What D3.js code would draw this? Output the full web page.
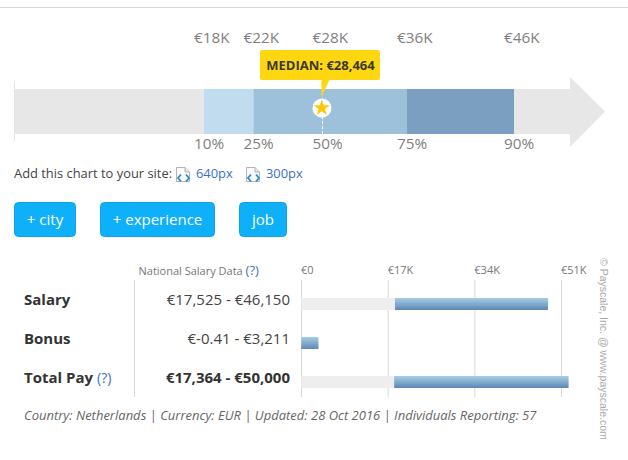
<!DOCTYPE html>
<html>
<head>
<meta charset="utf-8">
<script src="https://cdnjs.cloudflare.com/ajax/libs/d3/7.8.5/d3.min.js"></script>
<style>
html, body { margin: 0; padding: 0; background: #fff; }
svg { display: block; font-family: "Open Sans", sans-serif; }
</style>
</head>
<body>
<svg id="chart" width="628" height="460"></svg>
<script>
// Percentile band
const percentileLabels = ["10%", "25%", "50%", "75%", "90%"];
const percentileValues = [17525, 22100, 28464, 36270, 46150];
const percentileTicks = ["€18K", "€22K", "€28K", "€36K", "€46K"];
const bandColors = ["#c2dcef", "#9dc1da", "#9dc1da", "#7a9fc0"];
const medianValue = 28464;

// Salary ranges
const rowNames = ["Salary", "Bonus", "Total Pay"];
const rowRanges = ["€17,525 - €46,150", "€-0.41 - €3,211", "€17,364 - €50,000"];
const rowLow = [17525, -0.41, 17364];
const rowHigh = [46150, 3211, 50000];
const axisTicks = ["€0", "€17K", "€34K", "€51K"];

const buttons = [["+ city", 14, 62], ["+ experience", 100, 115], ["job", 239, 48]];
const embedSizes = ["640px", "300px"];

const svg = d3.select("#chart");
const grad = svg.append("defs").append("linearGradient").attr("id", "barFill")
  .attr("x1", 0).attr("y1", 0).attr("x2", 0).attr("y2", 1);
grad.append("stop").attr("offset", "0%").attr("stop-color", "#a4cfe3");
grad.append("stop").attr("offset", "100%").attr("stop-color", "#5e87b6");

// Page rule
svg.append("line").attr("x1", 0).attr("x2", 628).attr("y1", 7.5).attr("y2", 7.5)
  .attr("stroke", "#d6d6d6").attr("stroke-width", 1);

// Arrow backdrop
const bandTop = 89, bandBottom = 134;
svg.append("path")
  .attr("d", d3.line()([[14, bandTop], [570, bandTop], [570, 77], [605, 111.5], [570, 147], [570, bandBottom], [14, bandBottom]]) + "Z")
  .attr("fill", "#e7e7e7");
svg.append("line").attr("x1", 14.5).attr("x2", 14.5).attr("y1", 82).attr("y2", 141)
  .attr("stroke", "#e4e4e4");

const xPct = d3.scaleLinear().domain([17525, 46150]).range([204, 514]);

svg.selectAll("rect.band").data(d3.pairs(percentileValues)).join("rect")
  .attr("class", "band")
  .attr("x", d => xPct(d[0]))
  .attr("width", d => xPct(d[1]) - xPct(d[0]))
  .attr("y", bandTop).attr("height", bandBottom - bandTop)
  .attr("fill", (d, i) => bandColors[i]);

svg.selectAll("text.pv").data(percentileTicks).join("text")
  .attr("class", "pv")
  .attr("x", (d, i) => xPct(percentileValues[i]) - 10)
  .attr("y", 43).attr("font-size", 15.3).attr("fill", "#7f7f7f").text(d => d);

svg.selectAll("text.pl").data(percentileLabels).join("text")
  .attr("class", "pl")
  .attr("x", (d, i) => xPct(percentileValues[i]) - 10)
  .attr("y", 149).attr("font-size", 15.3).attr("fill", "#7f7f7f").text(d => d);

// Median marker
const mx = xPct(medianValue);
svg.append("line").attr("x1", mx).attr("x2", mx).attr("y1", 116).attr("y2", bandBottom)
  .attr("stroke", "#fff").attr("stroke-dasharray", "3,2");
svg.append("rect").attr("x", 260).attr("y", 50).attr("width", 120).attr("height", 30).attr("rx", 2)
  .attr("fill", "#ffd711");
svg.append("path")
  .attr("d", d3.line()([[mx - 1, 97], [mx - 1, 80], [mx + 7, 80]]) + "Z")
  .attr("fill", "#ffd711");
svg.append("text").attr("x", 320.5).attr("y", 70).attr("text-anchor", "middle")
  .attr("font-size", 13).attr("font-weight", 700).attr("fill", "#3a3a2c")
  .text("MEDIAN: €" + d3.format(",")(medianValue));
svg.append("circle").attr("cx", mx - 0.5).attr("cy", 108).attr("r", 9.5).attr("fill", "#fff");
svg.append("path")
  .attr("d", d3.symbol(d3.symbolStar, 85)())
  .attr("transform", `translate(${mx - 0.7},108)`)
  .attr("fill", "#ffc60a");

// Embed links
svg.append("text").attr("x", 14).attr("y", 178).attr("font-size", 12.9).attr("fill", "#444")
  .text("Add this chart to your site:");
const embedX = [176, 246];
embedSizes.forEach((label, i) => {
  const g = svg.append("g").attr("transform", `translate(${embedX[i]},167)`);
  g.append("path").attr("d", "M0.5,0.5H9L13.5,5V14.5H0.5Z").attr("fill", "#fafafa").attr("stroke", "#b5b5b5");
  g.append("path").attr("d", "M9,0.5V5H13.5").attr("fill", "#e4e4e4").attr("stroke", "#b5b5b5");
  g.append("path").attr("d", "M5,7.5L2,11L5,14.5M10,7.5L13,11L10,14.5").attr("fill", "none")
    .attr("stroke", "#2a8fc9").attr("stroke-width", 1.8);
  g.append("text").attr("x", 20).attr("y", 11).attr("font-size", 12.9).attr("fill", "#3c70c0").text(label);
});

// Action buttons
const btn = svg.selectAll("g.btn").data(buttons).join("g").attr("class", "btn");
btn.append("rect").attr("x", d => d[1] + 0.5).attr("y", 202.5).attr("width", d => d[2] - 1).attr("height", 34)
  .attr("rx", 4).attr("fill", "#0eb0f9").attr("stroke", "#0ca2e6");
btn.append("text").attr("x", d => d[1] + d[2] / 2).attr("y", 225).attr("text-anchor", "middle")
  .attr("font-size", 15).attr("fill", "#fff").text(d => d[0]);

// Salary table header
const header = svg.append("text").attr("x", 138.5).attr("y", 275).attr("font-size", 11).attr("fill", "#777");
header.append("tspan").text("National Salary Data ");
header.append("tspan").attr("fill", "#3c70c0").attr("font-size", 13).text("(?)");

const rowY = d3.scalePoint().domain(rowNames).range([304, 382]);

// Axis: the tick labels are evenly spaced, the bars use their own euro scale
const xTick = d3.scalePoint().domain(axisTicks).range([301.5, 561.5]);
const xBar = d3.scaleLinear().domain([0, 50000]).range([301.3, 568.6]);

svg.append("line").attr("x1", 134.5).attr("x2", 134.5).attr("y1", 280).attr("y2", 397).attr("stroke", "#d8d8d8");
svg.selectAll("line.tick").data(axisTicks).join("line").attr("class", "tick")
  .attr("x1", d => xTick(d)).attr("x2", d => xTick(d)).attr("y1", 280).attr("y2", 397).attr("stroke", "#d8d8d8");
svg.selectAll("text.tick").data(axisTicks).join("text").attr("class", "tick")
  .attr("x", d => xTick(d) - 0.5).attr("y", 274).attr("font-size", 11).attr("fill", "#777")
  .text(d => d);

rowNames.forEach((name, i) => {
  const y = rowY(name);
  const bold = name === "Total Pay";
  const label = svg.append("text").attr("x", 24).attr("y", y + 1).attr("font-size", 15)
    .attr("font-weight", 700).attr("fill", "#333").text(name);
  if (bold) {
    label.append("tspan").attr("font-weight", 400).attr("font-size", 14).attr("fill", "#3c70c0").attr("dx", 4).text("(?)");
  }
  svg.append("text").attr("x", 290).attr("y", y + 1).attr("text-anchor", "end").attr("font-size", 15)
    .attr("font-weight", bold ? 700 : 400).attr("fill", bold ? "#333" : "#444").text(rowRanges[i]);
  const low = Math.max(rowLow[i], 0);
  if (low > 0) {
    svg.append("rect").attr("x", xBar(0)).attr("y", y - 6).attr("width", xBar(low) - xBar(0)).attr("height", 12).attr("fill", "#eeeeee");
  }
  svg.append("rect").attr("x", xBar(low)).attr("y", y - 6).attr("width", xBar(rowHigh[i]) - xBar(low)).attr("height", 12).attr("fill", "url(#barFill)");
});

// Footer and credit
svg.append("text").attr("x", 24).attr("y", 420).attr("font-size", 13).attr("font-style", "italic").attr("fill", "#666")
  .text("Country: Netherlands | Currency: EUR | Updated: 28 Oct 2016 | Individuals Reporting: 57");
svg.append("text").attr("transform", "translate(600,258) rotate(90)").attr("font-family", "Liberation Sans, sans-serif")
  .attr("font-size", 10.5).attr("letter-spacing", 0).attr("fill", "#aaa")
  .text("© Payscale, Inc. @ www.payscale.com");
</script>
</body>
</html>
